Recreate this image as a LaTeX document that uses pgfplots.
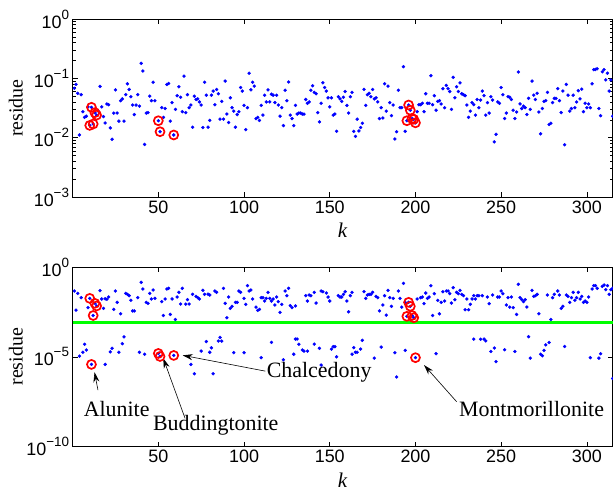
\documentclass[border=0pt]{standalone}
\usepackage{fontspec}
\setmainfont{Liberation Serif}
\setsansfont{Liberation Sans}
\usepackage{pgfplots}
\pgfplotsset{compat=1.18}
\usetikzlibrary{arrows.meta}
\newcommand{\ex}[1]{\raisebox{0.5em}{\fontsize{13.5}{14}\selectfont #1}}
\pgfplotsset{
  resaxis/.style={
    scale only axis, width=540bp, xmin=0, xmax=315,
    xtick={50,100,150,200,250,300},
    axis line style={line width=0.6pt},
    tick style={black, line width=0.6pt},
    major tick length=5bp, minor tick length=3bp,
    tick label style={font=\sffamily\fontsize{18}{20}\selectfont},
    /pgf/number format/assume math mode=true,
    xlabel={\textit{k}},
    xlabel style={font=\fontsize{21}{23}\selectfont, at={(axis description cs:0.5,-0.188)}, anchor=center},
    ylabel={residue},
    ylabel style={font=\fontsize{20}{22}\selectfont, at={(axis description cs:-0.105,0.5)}, anchor=center},
    clip=false,
  },
  mydots/.style={only marks, mark=*, mark size=1.5pt, color=blue},
  myrings/.style={only marks, mark=o, mark size=4.5pt, color=red, line width=1.7pt},
}
\tikzset{
  ann/.style={font=\fontsize{22}{24}\selectfont, inner sep=0pt},
  arr/.style={-{Stealth[length=10bp,width=6bp]}, line width=0.6pt, black},
}
\begin{document}
\begin{tikzpicture}
\useasboundingbox (0,0) rectangle (613bp,-492bp);
% ---------------- top axis ----------------
\begin{semilogyaxis}[resaxis, at={(72.6bp,-197bp)}, anchor=south west, height=178bp,
  ymin=1e-3, ymax=1,
  ytick={1e-3,1e-2,1e-1,1},
  yticklabels={10\ex{−3},10\ex{−2},10\ex{−1},10\ex{0}},
  minor ytick={2e-3,3e-3,4e-3,5e-3,6e-3,7e-3,8e-3,9e-3,2e-2,3e-2,4e-2,5e-2,6e-2,7e-2,8e-2,9e-2,0.2,0.3,0.4,0.5,0.6,0.7,0.8,0.9},
]
\addplot[mydots] coordinates {
(1,0.068)(2,0.079)(3,0.056)(4,0.0111)(5,0.053)(6,0.0274)(7,0.022)(8,0.023)(9,0.033)(10,0.0161)(11,0.0325)(12,0.017)(13,0.0264)(14,0.024)(15,0.028)(16,0.073)(17,0.033)(18,0.0227)(19,0.0177)(20,0.037)(21,0.036)(22,0.0146)(23,0.0094)(24,0.026)(25,0.064)(26,0.026)(27,0.019)(28,0.042)(29,0.045)(30,0.019)(31,0.053)(32,0.081)(33,0.065)(34,0.049)(35,0.0355)(36,0.0245)(37,0.0355)(38,0.053)(39,0.034)(40,0.179)(41,0.133)(42,0.0077)(43,0.026)(44,0.0265)(45,0.050)(46,0.042)(47,0.086)(48,0.042)(50,0.0193)(51,0.0126)(52,0.032)(53,0.022)(54,0.031)(55,0.079)(56,0.082)(57,0.019)(58,0.039)(59,0.0111)(60,0.030)(61,0.051)(62,0.072)(63,0.048)(64,0.0274)(65,0.109)(66,0.0265)(67,0.053)(68,0.032)(69,0.0355)(70,0.015)(71,0.050)(72,0.044)(73,0.045)(74,0.040)(75,0.0355)(76,0.0148)(77,0.086)(78,0.052)(79,0.015)(80,0.0195)
(81,0.052)(82,0.061)(83,0.036)(84,0.065)(85,0.055)(86,0.0205)(87,0.041)(88,0.0205)(89,0.090)(90,0.025)(91,0.018)(92,0.047)(93,0.032)(94,0.028)(95,0.015)(96,0.0245)(97,0.0274)(98,0.070)(99,0.061)(100,0.035)(101,0.0137)(102,0.032)(103,0.122)(104,0.064)(105,0.086)(106,0.074)(107,0.021)(108,0.022)(109,0.0195)(110,0.035)(111,0.024)(112,0.052)(113,0.040)(114,0.064)(115,0.040)(116,0.054)(117,0.052)(118,0.039)(119,0.052)(120,0.0355)(121,0.023)(122,0.032)(123,0.016)(124,0.063)(125,0.042)(126,0.087)(127,0.024)(128,0.021)(129,0.016)(130,0.035)(131,0.025)(132,0.026)(133,0.026)(134,0.025)(135,0.025)(136,0.044)(137,0.038)(138,0.040)(139,0.063)(140,0.075)(141,0.058)(142,0.055)(143,0.0265)(144,0.0185)(145,0.038)(146,0.084)(147,0.070)(148,0.061)(149,0.047)(150,0.033)(151,0.047)(152,0.024)(153,0.025)(154,0.0128)(155,0.049)(156,0.045)(157,0.041)(158,0.048)(159,0.060)(160,0.035)(161,0.026)
(162,0.049)(163,0.058)(164,0.0128)(165,0.0105)(166,0.0205)(167,0.013)(168,0.0148)(169,0.0175)(170,0.065)(171,0.035)(172,0.053)(173,0.056)(174,0.049)(175,0.065)(176,0.045)(177,0.047)(178,0.040)(179,0.021)(180,0.032)(181,0.0215)(182,0.081)(183,0.028)(184,0.074)(185,0.039)(186,0.0235)(187,0.0355)(188,0.0095)(189,0.0126)(190,0.063)(191,0.032)(192,0.032)(193,0.157)(194,0.0128)(195,0.0193)(196,0.0355)(197,0.029)(198,0.021)(199,0.0204)(200,0.0178)(201,0.0274)(202,0.036)(203,0.036)(204,0.038)(205,0.0274)(206,0.055)(207,0.038)(208,0.038)(209,0.111)(210,0.036)(211,0.051)(212,0.029)(213,0.041)(214,0.042)(215,0.037)(216,0.067)(217,0.032)(218,0.076)(219,0.067)(220,0.060)(221,0.030)(222,0.104)(223,0.047)(224,0.072)(225,0.060)(226,0.084)(227,0.055)(228,0.053)(229,0.051)(230,0.0355)(231,0.022)(232,0.028)(233,0.039)(234,0.036)(235,0.024)(236,0.044)(237,0.032)(238,0.043)(239,0.061)
(240,0.051)(241,0.024)(242,0.039)(243,0.026)(244,0.049)(245,0.043)(246,0.0085)(247,0.0114)(248,0.040)(249,0.038)(250,0.070)(251,0.053)(252,0.021)(253,0.026)(254,0.049)(255,0.048)(256,0.044)(257,0.029)(258,0.021)(259,0.027)(260,0.128)(261,0.037)(262,0.031)(263,0.034)(264,0.032)(265,0.0245)(266,0.046)(267,0.030)(268,0.090)(269,0.052)(270,0.044)(271,0.056)(272,0.027)(273,0.0116)(274,0.031)(275,0.041)(276,0.042)(277,0.058)(278,0.0167)(279,0.0175)(280,0.039)(281,0.046)(282,0.046)(283,0.067)(284,0.042)(285,0.0265)(286,0.061)(287,0.0076)(288,0.079)(289,0.052)(290,0.028)(291,0.031)(292,0.052)(293,0.032)(294,0.040)(295,0.062)(296,0.045)(297,0.066)(298,0.0274)(299,0.038)(300,0.032)(301,0.037)(302,0.032)(303,0.081)(304,0.140)(305,0.141)(306,0.145)(307,0.031)(308,0.0235)(309,0.129)(310,0.140)(311,0.094)(312,0.122)(313,0.061)(314,0.094)(315,0.023)
};
\addplot[myrings] coordinates {
(10,0.0161)(11,0.0325)(12,0.017)(13,0.0264)(14,0.024)(50,0.0193)(51,0.0126)(59,0.0111)(195,0.0193)(196,0.0355)(197,0.029)(198,0.021)(199,0.0204)(200,0.0178)
};
\end{semilogyaxis}
% ---------------- bottom axis ----------------
\begin{semilogyaxis}[resaxis, at={(72.6bp,-446.7bp)}, anchor=south west, height=179.7bp,
  ymin=1e-10, ymax=1,
  ytick={1e-10,1e-5,1},
  yticklabels={10\ex{−10},10\ex{−5},10\ex{0}},
  minor ytick={},
]
\addplot[green, line width=2.8pt] coordinates {(0,8e-4)(315,8e-4)};
\addplot[mydots] coordinates {
(1,0.0462)(2,0.0040)(3,0.0343)(5,0.0197)(9,0.0055)(10,0.018)(12,0.0020)(13,0.0095)(14,0.0068)(16,0.0482)(17,0.0166)(18,0.0050)(19,0.0170)(20,0.0160)(21,0.0214)(24,0.0044)(25,0.0462)(26,0.0108)(28,0.0025)(31,0.0343)(32,0.0301)(33,0.0254)(34,0.0140)(35,0.0036)(36,0.0036)(38,0.0197)(40,0.140)(41,0.0597)(43,0.0108)(44,0.0095)(45,0.0343)(46,0.0166)(47,0.0525)(48,0.0180)(52,0.0118)(53,0.0020)(54,0.0166)(55,0.0597)(56,0.065)(57,0.0023)(58,0.0166)(60,0.0012)(61,0.0214)(62,0.0389)(63,0.0087)(64,0.065)(66,0.0087)(67,0.0152)(68,0.0087)(70,0.0301)(72,0.0233)(73,0.0197)(74,0.0166)(76,0.0503)(77,0.0301)(79,0.031)(80,0.0277)
(83,0.0462)(84,0.0389)(88,0.065)(89,0.0095)(90,0.0015)(91,0.0214)(92,0.0050)(93,0.0065)(95,0.0108)(96,0.0108)(97,0.0462)(98,0.0389)(100,0.0180)(101,0.0084)(102,0.0914)(103,0.0462)(104,0.0525)(105,0.0166)(107,0.0059)(108,0.0039)(109,0.0044)(110,0.0197)(111,0.0197)(112,0.0128)(113,0.0180)(114,0.0389)(115,0.0180)(116,0.0128)(117,0.0166)(118,0.0077)(119,0.0214)(120,0.0118)(121,0.0030)(122,0.0084)(124,0.0462)(125,0.0254)(126,0.065)(127,0.0071)(128,0.0055)(130,0.0068)(136,0.0254)(137,0.0128)(138,0.0277)(139,0.0254)(141,0.0389)(142,0.0099)(145,0.0462)(146,0.0424)(148,0.0357)(149,0.0214)(150,0.0128)(155,0.0254)(156,0.0214)(157,0.0214)(158,0.0301)(159,0.0424)(160,0.0128)
(161,0.0032)(162,0.0254)(163,0.0389)(170,0.0424)(171,0.0180)(172,0.0277)(173,0.0301)(174,0.0301)(175,0.0389)(177,0.0233)(178,0.0197)(179,0.0036)(181,0.0077)(182,0.0254)(183,0.0021)(184,0.0503)(185,0.0197)(186,0.0065)(187,0.0180)(190,0.0462)(191,0.0180)(192,0.0059)(193,0.123)(194,0.0108)(195,0.0018)(196,0.0108)(197,0.0065)(198,0.0020)(199,0.0015)(201,0.0166)(203,0.0197)(204,0.0214)(205,0.0091)(206,0.0357)(207,0.0180)(208,0.0214)(209,0.0914)(210,0.0020)(211,0.0328)(213,0.0140)(214,0.0025)(215,0.0108)(216,0.0424)(217,0.0128)(218,0.0462)(219,0.0462)(220,0.0328)(221,0.0099)(222,0.0708)(223,0.0152)(224,0.0389)(225,0.0328)(226,0.0503)(227,0.0301)(228,0.0254)(229,0.0042)(230,0.0166)(231,0.0042)(232,0.0084)(233,0.0166)(234,0.0254)(235,0.0166)(236,0.0254)(237,0.0254)(239,0.0254)
(242,0.0214)(243,0.0091)(245,0.0277)(248,0.0214)(249,0.0214)(250,0.0462)(251,0.0328)(253,0.0077)(254,0.0197)(255,0.0059)(256,0.0214)(257,0.0055)(259,0.0023)(260,0.109)(261,0.0197)(262,0.0152)(263,0.0118)(264,0.0152)(265,0.0059)(268,0.0503)(269,0.0233)(270,0.0254)(271,0.0301)(272,0.0025)(277,0.0277)(279,0.0012)(280,0.0197)(281,0.0301)(283,0.0462)(284,0.0277)(285,0.0050)(286,0.0065)(288,0.0277)(289,0.0233)(290,0.0108)(291,0.0197)(292,0.0389)(293,0.0140)(294,0.0197)(295,0.0389)(296,0.0166)(297,0.0233)(298,0.0108)(299,0.0128)(300,0.0108)(301,0.0214)(303,0.0597)(304,0.0914)(305,0.0914)(306,0.065)(309,0.084)(310,0.0996)(311,0.0548)(312,0.0914)(313,0.0301)(314,0.0548)(315,0.065)
(4,1.1e-5)(6,1.8e-5)(7,5.0e-5)(8,2.4e-5)(11,3.8e-6)(19,3.8e-6)(22,1.9e-5)(23,3.0e-5)(27,1.8e-5)(29,5.4e-5)(30,1.3e-4)(39,1.8e-5)(42,1.4e-5)(50,1.55e-5)(51,1.05e-5)(59,1.2e-5)(69,3.8e-6)(71,1.15e-6)(75,2.1e-5)(78,7.1e-5)(80,1.8e-5)(81,3.2e-5)(82,1.15e-6)(85,7.6e-5)(86,1.2e-4)(87,7.6e-5)(94,1.7e-5)(100,1.7e-5)(110,9e-6)(116,6.4e-5)(123,6.9e-6)(129,1.4e-5)(130,9.8e-5)(131,9.8e-5)(132,5.0e-5)(134,2.4e-5)(135,2.1e-5)(137,2.1e-5)(141,5.1e-5)(144,3.0e-5)(145,3.5e-6)(151,2.7e-5)(152,3.7e-5)(153,3.7e-5)(154,1.0e-5)(163,1.4e-5)(164,3.3e-5)(165,1.8e-5)(166,1.8e-5)(168,2.7e-5)(169,8.3e-5)(176,8.5e-6)(180,3.5e-5)(188,1.7e-5)(189,7.6e-7)(194,2.3e-5)(200,9e-6)(212,1.5e-5)(234,9.6e-5)(238,9.6e-5)(240,9.8e-5)(241,7.7e-5)(244,2.0e-5)(246,3.1e-5)(247,5.4e-6)(252,2.5e-5)(258,2.0e-5)(266,1.33e-4)(267,8.5e-6)(273,1.4e-5)(274,1.15e-5)(275,2.3e-5)(276,4.7e-5)(278,6.3e-5)(287,3.8e-5)(302,9e-6)(307,8.5e-6)(308,1.5e-5)(315,6.3e-7)
};
\addplot[myrings] coordinates {
(10,0.018)(11,3.8e-6)(12,0.0020)(13,0.0095)(14,0.0068)(50,1.55e-5)(51,1.05e-5)(59,1.2e-5)(195,0.0018)(196,0.0108)(197,0.0065)(198,0.0020)(199,0.0015)(200,9e-6)
};
\node[ann] at (axis cs:25.7,1.26e-8) {Alunite};
\draw[arr] (axis cs:14.8,1.4e-7) -- (axis cs:12.8,1.4e-6);
\node[ann] at (axis cs:83.5,1.6e-9) {Buddingtonite};
\draw[arr] (axis cs:65.6,3.8e-9) -- (axis cs:52.9,8.3e-6);
\node[ann] at (axis cs:143.8,1.38e-6) {Chalcedony};
\draw[arr] (axis cs:112.5,1.6e-6) -- (axis cs:64.2,1.22e-5);
\node[ann] at (axis cs:267.7,1.26e-8) {Montmorillonite};
\draw[arr] (axis cs:224,3.2e-8) -- (axis cs:205,3.5e-6);
\end{semilogyaxis}
\end{tikzpicture}
\end{document}
